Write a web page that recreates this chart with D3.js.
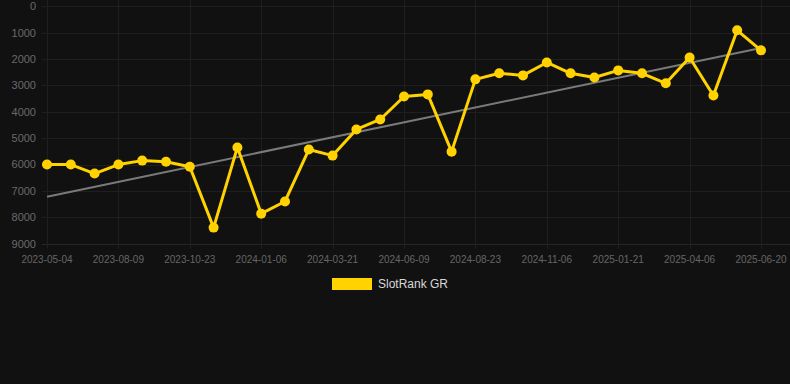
<!DOCTYPE html>
<html><head><meta charset="utf-8">
<script src="https://cdn.jsdelivr.net/npm/d3@7"></script>
<style>html,body{margin:0;padding:0;background:#111111;}svg{display:block;}</style>
</head><body>
<svg id="c" width="790" height="384"></svg>
<script>
const categories = ["2023-05-04","2023-05-29","2023-07-15","2023-08-09","2023-09-03","2023-09-28","2023-10-23","2023-11-17","2023-12-12","2024-01-06","2024-01-31","2024-02-25","2024-03-21","2024-04-15","2024-05-15","2024-06-09","2024-07-04","2024-07-29","2024-08-23","2024-09-17","2024-10-12","2024-11-06","2024-12-01","2024-12-27","2025-01-21","2025-02-15","2025-03-12","2025-04-06","2025-05-01","2025-05-26","2025-06-20"];
const seriesValues = [6000,6000,6340,6000,5850,5890,6080,8390,5350,7860,7400,5430,5660,4670,4290,3420,3340,5510,2770,2540,2620,2130,2540,2700,2430,2540,2920,1940,3380,910,1670];
const trendValues = [7220,1580];
const yTicks = [0,1000,2000,3000,4000,5000,6000,7000,8000,9000];
const seriesName = "SlotRank GR";

(function(){
const svg = d3.select("#c");
const mLeft = 47, mRight = 761, mTop = 6.3, mBottom = 243.7;
const x = d3.scalePoint().domain(categories).range([mLeft, mRight]);
const y = d3.scaleLinear().domain([0, 9000]).range([mTop, mBottom]);
const font = "Helvetica, Arial, 'Liberation Sans', sans-serif";

svg.append("g").selectAll("line").data(yTicks).join("line")
  .attr("x1", 42).attr("x2", 790)
  .attr("y1", d => Math.round(y(d)) + 0.5).attr("y2", d => Math.round(y(d)) + 0.5)
  .attr("stroke", d => d === 9000 ? "#262626" : "#1f1f1f").attr("stroke-width", 1);

const shown = categories.filter((d, i) => i % 3 === 0);
svg.append("g").selectAll("line").data(shown).join("line")
  .attr("x1", d => Math.round(x(d)) + 0.5).attr("x2", d => Math.round(x(d)) + 0.5)
  .attr("y1", 0).attr("y2", mBottom + 5)
  .attr("stroke", "#1f1f1f").attr("stroke-width", 1);

svg.append("g").selectAll("text").data(yTicks).join("text")
  .attr("x", 36).attr("y", d => y(d)).attr("dy", "0.35em")
  .attr("text-anchor", "end").attr("font-family", font).attr("font-size", 11)
  .attr("fill", "#6a6a6a").text(d => d);

svg.append("g").selectAll("text").data(shown).join("text")
  .attr("x", d => x(d)).attr("y", 259).attr("dy", "0.35em")
  .attr("text-anchor", "middle").attr("font-family", font).attr("font-size", 10)
  .attr("fill", "#666666").text(d => d);

svg.append("line")
  .attr("x1", x(categories[0])).attr("y1", y(trendValues[0]))
  .attr("x2", x(categories[categories.length - 1])).attr("y2", y(trendValues[1]))
  .attr("stroke", "#7a7a7a").attr("stroke-width", 2);

const data = categories.map((c, i) => ({c, v: seriesValues[i]}));
svg.append("path").datum(data)
  .attr("d", d3.line().x(d => x(d.c)).y(d => y(d.v)))
  .attr("fill", "none").attr("stroke", "#ffd200").attr("stroke-width", 3)
  .attr("stroke-linejoin", "round");
svg.append("g").selectAll("circle").data(data).join("circle")
  .attr("cx", d => x(d.c)).attr("cy", d => y(d.v)).attr("r", 5)
  .attr("fill", "#ffd200");

svg.append("rect").attr("x", 332).attr("y", 278).attr("width", 40).attr("height", 12)
  .attr("fill", "#ffd200");
svg.append("text").attr("x", 378).attr("y", 284).attr("dy", "0.35em")
  .attr("font-family", font).attr("font-size", 12).attr("fill", "#d8d8d8").text(seriesName);
})();
</script>
</body></html>
